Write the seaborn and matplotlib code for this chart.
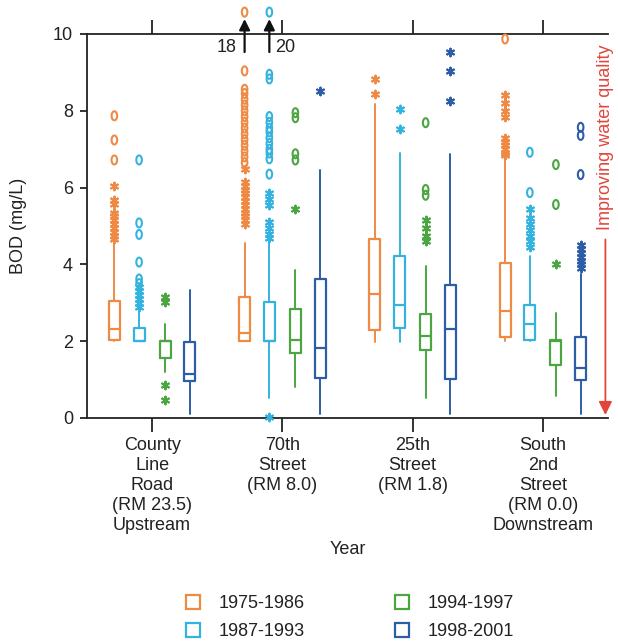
import numpy as np
import pandas as pd
import matplotlib
matplotlib.use("Agg")
import matplotlib.pyplot as plt
from matplotlib.path import Path
from matplotlib.lines import Line2D
import seaborn as sns

# ---------------- data ----------------
stations = ["County\nLine\nRoad\n(RM 23.5)\nUpstream",
            "70th\nStreet\n(RM 8.0)",
            "25th\nStreet\n(RM 1.8)",
            "South\n2nd\nStreet\n(RM 0.0)\nDownstream"]
periods = ["1975-1986", "1987-1993", "1994-1997", "1998-2001"]
colors = ["#EF8A45", "#35B3DF", "#4BA541", "#2E5DA8"]

# box statistics: rows = period, columns = station
q1 = [[2.02, 2.00, 2.30, 2.12],
      [2.00, 2.00, 2.34, 2.04],
      [1.56, 1.69, 1.76, 1.37],
      [0.97, 1.04, 1.02, 0.99]]
med = [[2.32, 2.21, 3.24, 2.79],
       [2.00, 2.00, 2.95, 2.45],
       [2.00, 2.04, 2.14, 2.00],
       [1.15, 1.82, 2.32, 1.30]]
q3 = [[3.04, 3.14, 4.67, 4.04],
      [2.34, 3.02, 4.23, 2.95],
      [2.00, 2.84, 2.72, 2.02],
      [1.97, 3.63, 3.47, 2.10]]
whislo = [[2.00, 2.00, 1.99, 2.00],
          [2.00, 0.52, 1.99, 2.00],
          [1.20, 0.82, 0.51, 0.56],
          [0.10, 0.10, 0.10, 0.10]]
whishi = [[4.55, 4.57, 8.17, 6.78],
          [2.80, 4.60, 6.90, 4.21],
          [2.45, 3.85, 3.95, 2.73],
          [3.34, 6.45, 6.87, 3.75]]

# outliers: extreme (circles) and mild (asterisks), per station
ext_1975 = [[7.87, 7.24, 6.72],
            [9.04, 8.56, 8.45, 8.30, 8.15, 8.00, 7.85, 7.70, 7.55, 7.40, 7.25, 7.10, 6.95, 6.80, 6.65],
            [], [9.87]]
mild_1975 = [[6.04, 5.69, 5.58, 5.35, 5.25, 5.15, 5.05, 4.95, 4.85, 4.75, 4.65],
             [6.48, 6.15, 6.05, 5.95, 5.85, 5.75, 5.65, 5.55, 5.45, 5.35, 5.25, 5.15, 5.05],
             [8.83, 8.43],
             [8.40, 8.20, 8.00, 7.85, 7.30, 7.20, 7.10, 7.00, 6.90, 6.85]]
ext_1987 = [[6.72, 5.08, 4.78, 4.06, 3.62, 3.50],
            [8.95, 8.83, 7.85, 7.70, 7.55, 7.45, 7.30, 7.15, 7.00, 6.90, 6.75, 6.35],
            [], [6.92, 5.87]]
mild_1987 = [[3.40, 3.30, 3.20, 3.10, 3.00, 2.90],
             [5.85, 5.70, 5.55, 5.10, 4.95, 4.80, 4.70, 0.02],
             [8.04, 7.52],
             [5.45, 5.20, 5.05, 4.90, 4.75, 4.60, 4.45]]
ext_1994 = [[], [7.95, 7.82, 6.88, 6.72], [7.69, 5.95, 5.80], [6.60, 5.56]]
mild_1994 = [[3.15, 3.02, 0.86, 0.47], [5.43], [5.15, 4.95, 4.75, 4.60], [4.00]]
ext_1998 = [[], [], [], [7.57, 7.36, 6.34]]
mild_1998 = [[], [8.52], [9.52, 9.04, 8.26], [4.50, 4.40, 4.30, 4.20, 4.10, 4.00, 3.90]]

# values beyond the axis (shown with arrows)
off_period = [0, 1]
off_station = [1, 1]
off_value = [18, 20]

# ---------------- style ----------------
sns.set_theme(style="ticks")
plt.rcParams["font.family"] = ["Liberation Sans", "DejaVu Sans"]
plt.rcParams["axes.linewidth"] = 1.3
plt.rcParams["axes.edgecolor"] = "#222222"
plt.rcParams["text.color"] = "#222222"
plt.rcParams["xtick.color"] = "#222222"
plt.rcParams["ytick.color"] = "#222222"
plt.rcParams["axes.labelcolor"] = "#222222"

FS = 13
fig = plt.figure(figsize=(6.18, 6.44), dpi=100)
ax = fig.add_axes([87 / 618, 1 - 418 / 644, 521 / 618, 384 / 644])

offsets = [-0.29, -0.10, 0.10, 0.29]
width = 0.085

# boxes
for p in range(4):
    c = colors[p]
    stats = [dict(q1=q1[p][s], med=med[p][s], q3=q3[p][s],
                  whislo=whislo[p][s], whishi=whishi[p][s], fliers=[])
             for s in range(4)]
    ax.bxp(stats, positions=[s + offsets[p] for s in range(4)], widths=width,
           showfliers=False, showcaps=False, manage_ticks=False,
           boxprops=dict(color=c, linewidth=1.6),
           medianprops=dict(color=c, linewidth=1.6),
           whiskerprops=dict(color=c, linewidth=1.4))

# outliers
t = np.linspace(0, 2 * np.pi, 41)
oval = Path(np.column_stack([0.62 * np.cos(t), np.sin(t)]), closed=True)
asterisk = (6, 2, 0)

ext_all = [ext_1975, ext_1987, ext_1994, ext_1998]
mild_all = [mild_1975, mild_1987, mild_1994, mild_1998]
rows = []
for p in range(4):
    for s in range(4):
        for v in ext_all[p][s]:
            rows.append(dict(period=p, x=s + offsets[p], value=v, kind="extreme"))
        for v in mild_all[p][s]:
            rows.append(dict(period=p, x=s + offsets[p], value=v, kind="mild"))
df = pd.DataFrame(rows)

for p in range(4):
    c = colors[p]
    sub = df[(df.period == p) & (df.kind == "extreme")]
    if len(sub):
        sns.scatterplot(data=sub, x="x", y="value", ax=ax, marker=oval, s=42,
                        color=c, facecolor="none", edgecolor=c, linewidth=1.5,
                        clip_on=False, legend=False, zorder=3)
    sub = df[(df.period == p) & (df.kind == "mild")]
    if len(sub):
        sns.scatterplot(data=sub, x="x", y="value", ax=ax, marker=asterisk, s=30,
                        color=c, linewidth=1.5, clip_on=False, legend=False, zorder=3)

# off-scale values
ymax = 10
off_df = pd.DataFrame(dict(x=[off_station[i] + offsets[off_period[i]] for i in range(2)],
                           value=[ymax * 1.057] * 2,
                           period=off_period))
for i in range(2):
    c = colors[off_period[i]]
    xi = off_df.x[i]
    sns.scatterplot(data=off_df.iloc[[i]], x="x", y="value", ax=ax, marker=oval, s=42,
                    color=c, facecolor="none", edgecolor=c, linewidth=1.5,
                    clip_on=False, legend=False, zorder=3)
    ax.annotate("", xy=(xi, ymax * 1.039), xytext=(xi, ymax * 0.953),
                arrowprops=dict(arrowstyle="-|>", color="#111111", lw=1.6,
                                mutation_scale=16, shrinkA=0, shrinkB=0),
                annotation_clip=False)
    if i == 0:
        ax.text(xi - 0.06, ymax * 0.966, str(off_value[i]), ha="right", va="center",
                fontsize=FS, clip_on=False)
    else:
        ax.text(xi + 0.045, ymax * 0.966, str(off_value[i]), ha="left", va="center",
                fontsize=FS, clip_on=False)

# improving water quality arrow
red = "#E2453C"
ax.text(3.48, 7.3, "Improving water quality", rotation=90, ha="center", va="center",
        color=red, fontsize=FS, clip_on=False)
ax.annotate("", xy=(3.48, 0.08), xytext=(3.48, 4.65),
            arrowprops=dict(arrowstyle="-|>", color=red, lw=1.3,
                            mutation_scale=20, shrinkA=0, shrinkB=0),
            annotation_clip=False)

# axes
ax.set_xlim(-0.5, 3.5)
ax.set_ylim(0, ymax)
ax.set_xticks(range(4))
ax.set_xticklabels(stations, fontsize=FS, linespacing=1.22)
ax.set_yticks([0, 2, 4, 6, 8, 10])
ax.set_yticklabels(["0", "2", "4", "6", "8", "10"], fontsize=FS)
ax.tick_params(axis="x", top=True, direction="out", length=10, width=1.3, pad=4)
ax.tick_params(axis="y", direction="out", length=5, width=1.3, pad=5)
ax.spines["right"].set_visible(False)

ax.set_ylabel("BOD (mg/L)", fontsize=FS)
ax.yaxis.set_label_coords(-0.115, 0.5)
ax.set_xlabel("Year", fontsize=FS)
ax.xaxis.set_label_coords(0.5, -0.32)

handles = [Line2D([], [], marker="s", ls="none", mfc="none", mec=c, ms=10, mew=1.6)
           for c in colors]
fig.legend(handles, periods, ncol=2, loc="center", bbox_to_anchor=(0.565, 0.041),
           frameon=False, fontsize=FS, handlelength=1.0, handletextpad=0.9,
           columnspacing=4.9, labelspacing=0.6, borderpad=0)

fig.savefig("out.png", dpi=100)
